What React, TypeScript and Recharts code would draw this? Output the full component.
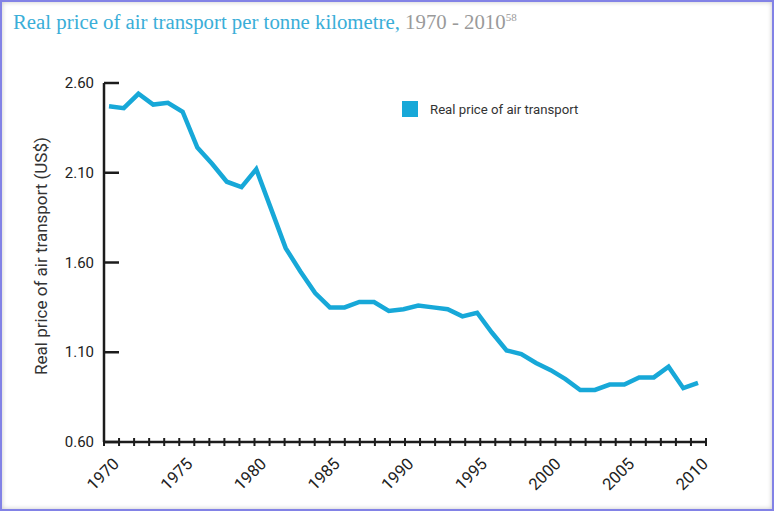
import React from "react";
import { LineChart, Line, XAxis, YAxis, Legend } from "recharts";

const years = [
  1970, 1971, 1972, 1973, 1974, 1975, 1976, 1977, 1978, 1979,
  1980, 1981, 1982, 1983, 1984, 1985, 1986, 1987, 1988, 1989,
  1990, 1991, 1992, 1993, 1994, 1995, 1996, 1997, 1998, 1999,
  2000, 2001, 2002, 2003, 2004, 2005, 2006, 2007, 2008, 2009, 2010,
];
const prices = [
  2.47, 2.46, 2.54, 2.48, 2.49, 2.44, 2.24, 2.15, 2.05, 2.02,
  2.12, 1.9, 1.68, 1.55, 1.43, 1.35, 1.35, 1.38, 1.38, 1.33,
  1.34, 1.36, 1.35, 1.34, 1.3, 1.32, 1.21, 1.11, 1.09, 1.04,
  1.0, 0.95, 0.89, 0.89, 0.92, 0.92, 0.96, 0.96, 1.02, 0.9, 0.93,
];
const yearLabels = [1970, 1975, 1980, 1985, 1990, 1995, 2000, 2005, 2010];
const priceTicks = [0.6, 1.1, 1.6, 2.1, 2.6];

const seriesName = "Real price of air transport";
const yTitle = "Real price of air transport (US$)";

const data = years.map((year, i) => ({ year, price: prices[i] }));

const BLUE = "#17a8d8";
const INK = "#1c1c1c";
const FONT = "Roboto, 'DejaVu Sans', sans-serif";

const YearMark = (props: any) => {
  const { x, y } = props;
  return <line x1={x} x2={x} y1={y - 4} y2={y + 4} stroke={INK} strokeWidth={2} />;
};

const YearLabel = (props: any) => {
  const { x, y, payload } = props;
  const ax = x + 11;
  const ay = y + 22;
  return (
    <text
      x={ax}
      y={ay}
      transform={`rotate(-45, ${ax}, ${ay})`}
      textAnchor="end"
      fontSize={16.5}
      fontFamily={FONT}
      fill="#222"
    >
      {payload.value}
    </text>
  );
};

const PriceTick = (props: any) => {
  const { x, y, payload } = props;
  return (
    <g>
      <line x1={x} x2={x + 15} y1={y} y2={y} stroke={INK} strokeWidth={2.5} />
      <text
        x={x - 10}
        y={y}
        dy={5}
        textAnchor="end"
        fontSize={15}
        fontFamily={FONT}
        fill="#222"
      >
        {Number(payload.value).toFixed(2)}
      </text>
    </g>
  );
};

const renderLegend = () => (
  <div style={{ display: "flex", alignItems: "center", fontFamily: FONT }}>
    <span style={{ width: 16, height: 16, background: BLUE, display: "inline-block" }} />
    <span style={{ marginLeft: 12, fontSize: 13.2, color: "#333" }}>{seriesName}</span>
  </div>
);

export default function App() {
  return (
    <div
      style={{
        position: "fixed",
        top: 0,
        left: 0,
        width: 774,
        height: 511,
        background: "#fff",
        overflow: "hidden",
      }}
    >
      <div
        style={{
          position: "absolute",
          left: 13,
          top: 5,
          fontFamily: "'Liberation Serif', serif",
          fontSize: 20.8,
          lineHeight: "24px",
          color: "#3aaed8",
          whiteSpace: "nowrap",
        }}
      >
        Real price of air transport per tonne kilometre,
        <span style={{ color: "#9a9a9a" }}>
          {" "}1970 - 2010<sup style={{ fontSize: 11, verticalAlign: "8px" }}>58</sup>
        </span>
      </div>
      <div style={{ position: "absolute", left: 0, top: 0 }}>
        <LineChart
          width={774}
          height={511}
          data={data}
          margin={{ top: 83, right: 68, bottom: 67, left: 0 }}
        >
          <XAxis
            xAxisId="marks"
            dataKey="year"
            type="number"
            domain={[1970, 2010]}
            ticks={years}
            interval={0}
            height={1}
            tickSize={0}
            tickMargin={0}
            tickLine={false}
            tick={<YearMark />}
            axisLine={{ stroke: INK, strokeWidth: 2.5 }}
          />
          <XAxis
            xAxisId="years"
            dataKey="year"
            type="number"
            domain={[1970, 2010]}
            ticks={yearLabels}
            interval={0}
            height={1}
            padding={{ left: 5, right: 8 }}
            tickSize={0}
            tickMargin={0}
            tickLine={false}
            axisLine={false}
            tick={<YearLabel />}
          />
          <YAxis
            type="number"
            domain={[0.6, 2.6]}
            ticks={priceTicks}
            interval={0}
            width={104}
            tickSize={0}
            tickMargin={0}
            tickLine={false}
            tick={<PriceTick />}
            axisLine={{ stroke: INK, strokeWidth: 2.5 }}
            label={{
              content: () => (
                <text
                  x={47}
                  y={256}
                  transform="rotate(-90, 47, 256)"
                  textAnchor="middle"
                  fontSize={17}
                  fontFamily={FONT}
                  fill="#333"
                >
                  {yTitle}
                </text>
              ),
            }}
          />
          <Legend
            layout="horizontal"
            verticalAlign="middle"
            align="center"
            content={renderLegend}
            wrapperStyle={{ position: "absolute", left: 402, top: 101, width: "auto" }}
          />
          <Line
            xAxisId="years"
            type="linear"
            dataKey="price"
            name={seriesName}
            stroke={BLUE}
            strokeWidth={4.5}
            dot={false}
            strokeLinejoin="miter"
            isAnimationActive={false}
          />
        </LineChart>
      </div>
      <div
        style={{
          position: "absolute",
          inset: 0,
          border: "2px solid #8282e6",
          boxShadow: "inset 0 0 5px rgba(0,0,0,0.22)",
          pointerEvents: "none",
        }}
      />
    </div>
  );
}
